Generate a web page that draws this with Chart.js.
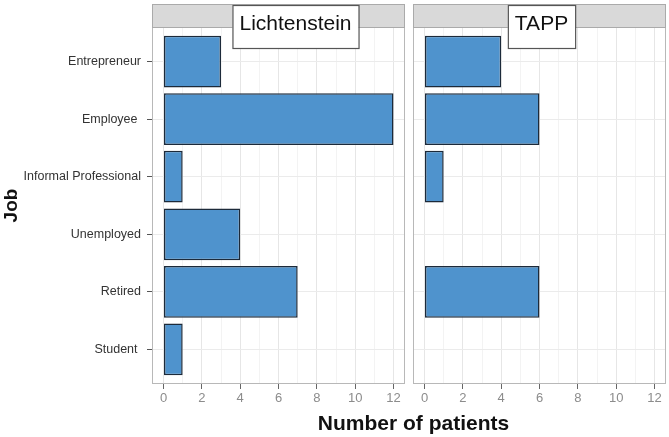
<!DOCTYPE html>
<html>
<head>
<meta charset="utf-8">
<script src="https://cdn.jsdelivr.net/npm/chart.js@4/dist/chart.umd.min.js"></script>
<style>
  body { margin: 0; background: #fff; }
  #wrap { position: relative; width: 669px; height: 437px; font-family: 'Liberation Sans', Arial, sans-serif; }
  #left { position: absolute; left: 0; top: 0; }
  #right { position: absolute; left: 412px; top: 0; }
  #xtitle { position: absolute; left: 0; width: 827px; top: 411px; text-align: center; font-weight: bold; font-size: 21px; color: #111; }
</style>
</head>
<body>
<div id="wrap">
  <canvas id="left" width="412" height="437"></canvas>
  <canvas id="right" width="257" height="437"></canvas>
  <div id="xtitle">Number of patients</div>
</div>
<script>
// Data
const jobs = ['Entrepreneur', 'Employee ', 'Informal Professional', 'Unemployed', 'Retired', 'Student '];
const panels = ['Lichtenstein', 'TAPP'];
const lichtenstein = [3, 12, 1, 4, 7, 1];
const tapp = [4, 6, 1, 0, 6, 0];
const xTicks = [0, 1, 2, 3, 4, 5, 6, 7, 8, 9, 10, 11, 12];

const FONT = "'Liberation Sans', Arial, sans-serif";

// Facet strip + panel border, drawn like ggplot
const facetPlugin = {
    id: 'facet',
    afterDraw(chart, args, opts) {
        const ctx = chart.ctx;
        const a = chart.chartArea;
        ctx.save();
        // panel border
        ctx.strokeStyle = '#b8b8b8';
        ctx.lineWidth = 1;
        ctx.strokeRect(a.left + 0.5, a.top + 0.5, a.right - a.left - 1, a.bottom - a.top - 1);
        // strip
        ctx.fillStyle = '#d9d9d9';
        ctx.fillRect(a.left, 4, a.right - a.left, a.top - 4);
        ctx.strokeStyle = '#aaaaaa';
        ctx.strokeRect(a.left + 0.5, 4.5, a.right - a.left - 1, a.top - 4);
        // label box
        ctx.font = '21px ' + FONT;
        const w = ctx.measureText(opts.label).width + 14;
        const cx = (a.left + a.right) / 2 + opts.dx;
        ctx.fillStyle = '#fff';
        ctx.fillRect(cx - w / 2, 5, w, 43);
        ctx.strokeStyle = '#555';
        ctx.lineWidth = 1.2;
        ctx.strokeRect(cx - w / 2 + 0.5, 5.5, w, 43);
        ctx.fillStyle = '#111';
        ctx.textAlign = 'center';
        ctx.textBaseline = 'alphabetic';
        ctx.fillText(opts.label, cx, 30);
        ctx.restore();
    }
};

function makeChart(id, values, label, dx, showY) {
    const ctx = document.getElementById(id).getContext('2d');
    return new Chart(ctx, {
        type: 'bar',
        data: {
            datasets: [{
                data: values.map((v, i) => ({ x: v, y: i + 1 })),
                backgroundColor: '#4f93cd',
                borderColor: '#1c2a3a',
                borderWidth: 1.5,
                borderSkipped: false,
                barPercentage: 0.9,
                categoryPercentage: 1
            }]
        },
        options: {
            indexAxis: 'y',
            responsive: false,
            animation: false,
            layout: { padding: { top: 27, right: showY ? 7 : 3, left: 0, bottom: 0 } },
            plugins: {
                legend: { display: false },
                tooltip: { enabled: false },
                facet: { label: label, dx: dx }
            },
            scales: {
                x: {
                    type: 'linear',
                    min: -0.6,
                    max: 12.6,
                    afterBuildTicks: (scale) => { scale.ticks = xTicks.map(v => ({ value: v })); },
                    afterFit: (scale) => { scale.height = 53; },
                    border: { display: false },
                    grid: {
                        color: (c) => (c.tick && c.tick.value % 2) ? '#f3f3f3' : '#e6e6e6',
                        tickColor: (c) => (c.tick && c.tick.value % 2) ? 'rgba(0,0,0,0)' : '#666',
                        tickLength: 5
                    },
                    ticks: {
                        autoSkip: false,
                        maxRotation: 0,
                        color: '#8c8c8c',
                        font: { family: FONT, size: 13 },
                        padding: 2,
                        callback: (v) => (v % 2 === 0 ? v : '')
                    }
                },
                y: {
                    type: 'linear',
                    min: 0.4,
                    max: 6.6,
                    reverse: true,
                    offset: false,
                    afterBuildTicks: (scale) => { scale.ticks = jobs.map((j, i) => ({ value: i + 1 })); },
                    afterFit: (scale) => { scale.width = showY ? 152 : 1; },
                    border: { display: false },
                    grid: {
                        offset: false,
                        color: '#ebebeb',
                        tickColor: '#555',
                        tickLength: showY ? 5 : 0
                    },
                    ticks: {
                        display: showY,
                        autoSkip: false,
                        color: '#333',
                        font: { family: FONT, size: 12.5 },
                        padding: 6,
                        callback: (v, i) => jobs[i]
                    },
                    title: {
                        display: showY,
                        text: 'Job',
                        color: '#111',
                        font: { family: FONT, size: 19, weight: 'bold' },
                        padding: { top: 0, bottom: 0 }
                    }
                }
            }
        },
        plugins: [facetPlugin]
    });
}

makeChart('left', lichtenstein, panels[0], 17, true);
makeChart('right', tapp, panels[1], 2, false);
</script>
</body>
</html>
